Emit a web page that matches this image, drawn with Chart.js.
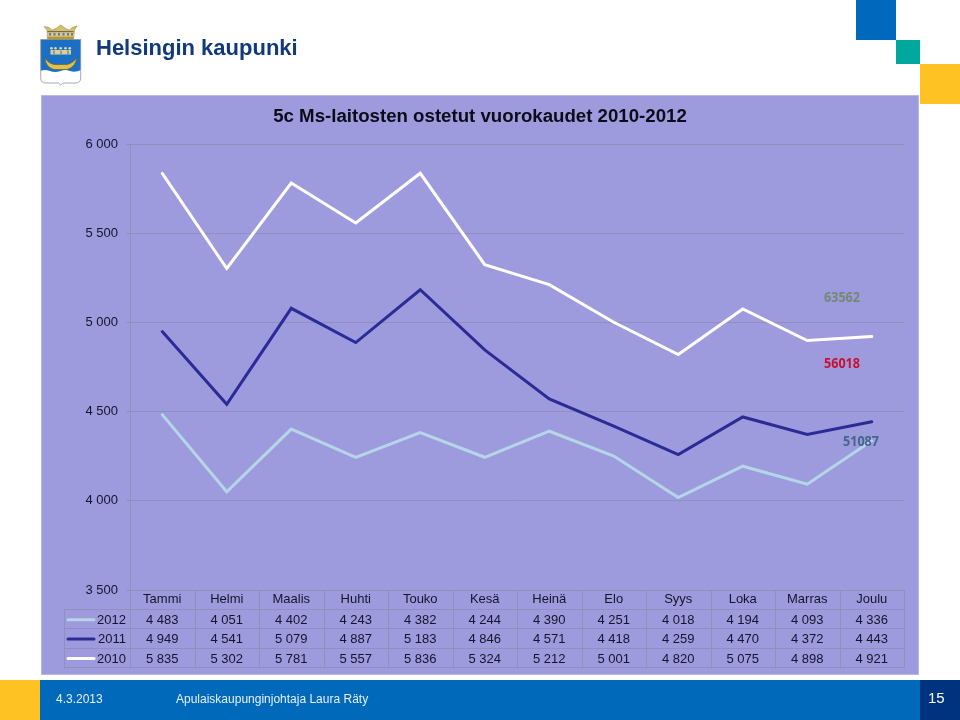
<!DOCTYPE html>
<html lang="fi">
<head>
<meta charset="utf-8">
<title>5c Ms-laitosten ostetut vuorokaudet 2010-2012</title>
<script src="https://cdn.jsdelivr.net/npm/chart.js@4"></script>
<style>
html,body{margin:0;padding:0;background:#fff}
canvas{display:block}
</style>
</head>
<body>
<canvas id="c" width="960" height="720"></canvas>
<script>
const months = ["Tammi","Helmi","Maalis","Huhti","Touko","Kesä","Heinä","Elo","Syys","Loka","Marras","Joulu"];
const years = ["2012","2011","2010"];
const values2012 = [4483,4051,4402,4243,4382,4244,4390,4251,4018,4194,4093,4336];
const values2011 = [4949,4541,5079,4887,5183,4846,4571,4418,4259,4470,4372,4443];
const values2010 = [5835,5302,5781,5557,5836,5324,5212,5001,4820,5075,4898,4921];
const yTicks = [3500,4000,4500,5000,5500,6000];
const totals = [
  {text:"63562", color:"#728a72", x:842, y:298},
  {text:"56018", color:"#c9112f", x:842, y:364},
  {text:"51087", color:"#44668f", x:861, y:442}
];
const FONT = '"Liberation Sans", Arial, sans-serif';
const TEXT = "#14142a";
const GRID = "#928fbc";
const fmt = v => { const s = String(v); return s.slice(0, s.length-3) + " " + s.slice(-3); };

function rect(c, col, x, y, w, h){ c.fillStyle = col; c.fillRect(x, y, w, h); }

function drawCrest(c){
  c.save();
  const shield = new Path2D();
  shield.moveTo(40.7,39.5); shield.lineTo(80.7,39.5); shield.lineTo(80.7,78);
  shield.quadraticCurveTo(80.7,83,75,83); shield.lineTo(63,83); shield.lineTo(60.7,85); shield.lineTo(58.4,83);
  shield.lineTo(46,83); shield.quadraticCurveTo(40.7,83,40.7,78); shield.closePath();
  c.fillStyle = "#fff"; c.fill(shield);
  c.save(); c.clip(shield);
  c.beginPath(); c.moveTo(40,39); c.lineTo(81,39); c.lineTo(81,70);
  c.quadraticCurveTo(75,73,70,71); c.quadraticCurveTo(65,69,60.7,71);
  c.quadraticCurveTo(55,73,50,71); c.quadraticCurveTo(45,69,40,71); c.closePath();
  c.fillStyle="#1b70c6"; c.fill();
  c.restore();
  c.strokeStyle="#8a93a3"; c.lineWidth=0.8; c.stroke(shield);
  c.beginPath(); c.moveTo(45,57); c.quadraticCurveTo(45,67,54,69.5); c.lineTo(67,69.5);
  c.quadraticCurveTo(76,67,76.7,57); c.quadraticCurveTo(74,63,67,64.5); c.lineTo(54,64.5);
  c.quadraticCurveTo(47,63,45,57); c.closePath();
  c.fillStyle="#e3c04a"; c.fill(); c.strokeStyle="#5f5a24"; c.lineWidth=0.6; c.stroke();
  c.fillStyle="#d8cf9a"; c.fillRect(50.5,50,20.5,4.5);
  c.fillStyle="#4c6c86"; [53.5,60.5,67.5].forEach(x=>c.fillRect(x,50.5,1,3.5));
  c.fillStyle="#dfd9ac";
  [51.5,55.5,60.7,65.5,69.8].forEach(x=>{c.beginPath();c.arc(x,48.2,1.3,0,7);c.fill();});
  c.beginPath(); c.moveTo(47,30); c.lineTo(44,26.5); c.lineTo(49,27.5); c.lineTo(52,30);
  c.lineTo(56,28.5); c.lineTo(60.7,25); c.lineTo(65.5,28.5); c.lineTo(69.5,30);
  c.lineTo(72,27.5); c.lineTo(77,26); c.lineTo(74.5,30); c.lineTo(73.5,39); c.lineTo(47.5,39); c.closePath();
  c.fillStyle="#d8c063"; c.fill();
  c.strokeStyle="#8a7a34"; c.lineWidth=0.5; c.stroke();
  c.fillStyle="#6f6c58"; c.fillRect(47.5,31,26,1.3);
  c.fillStyle="#c9c9c4"; c.fillRect(47.5,32.5,26,4);
  c.fillStyle="#8a7a34"; [49,53.5,58,62.5,67,71].forEach(x=>c.fillRect(x,33,2,2.6));
  c.fillStyle="#b6992f"; c.fillRect(47.5,36.7,26,2.3);
  c.restore();
}

const decor = {
  id:"decor",
  beforeDraw(ch){
    const c = ch.ctx;
    rect(c,"#ffffff",0,0,960,720);
    rect(c,"#0068bd",856,0,40,40);
    rect(c,"#00a79d",896,40,24,24);
    rect(c,"#ffc222",920,64,40,40);
    rect(c,"#b9b7e8",41,95,878,580);
    rect(c,"#9e9ade",42,96,876,578);
    rect(c,"#ffc222",0,680,40,40);
    rect(c,"#0069b9",40,680,880,40);
    rect(c,"#00337f",920,680,40,40);
    drawCrest(c);
    c.textBaseline="middle"; c.textAlign="left";
    c.fillStyle="#103a7c"; c.font='bold 22px '+FONT; c.fillText("Helsingin kaupunki",96,48.5);
    c.fillStyle="#e8f0f8"; c.font='12px '+FONT; c.fillText("4.3.2013",56,700);
    c.font='12px '+FONT; c.fillText("Apulaiskaupunginjohtaja Laura Räty",176,700);
    c.fillStyle="#ffffff"; c.font='15px '+FONT; c.fillText("15",928,698.5);
  },
  afterDraw(ch){
    const c = ch.ctx, x = ch.scales.x, a = ch.chartArea;
    const rowH = 19.4, top = a.bottom + 20;
    const rows = [values2012, values2011, values2010];
    const colors = ch.data.datasets.map(d=>d.borderColor);
    const colW = x.getPixelForValue(1) - x.getPixelForValue(0);
    c.save();
    c.strokeStyle = GRID; c.lineWidth = 1;
    c.beginPath();
    c.moveTo(a.left, a.bottom+.5); c.lineTo(a.right, a.bottom+.5);
    for(let r=0;r<=3;r++){ const y=Math.round(top+r*rowH)-.5; c.moveTo(64.5,y); c.lineTo(a.right,y); }
    c.moveTo(64.5,top); c.lineTo(64.5,top+3*rowH);
    for(let i=0;i<=12;i++){ const px=Math.round(a.left+i*colW)+.5; c.moveTo(px,a.bottom); c.lineTo(px,top+3*rowH); }
    c.stroke();
    c.font='13px '+FONT; c.textBaseline="middle"; c.fillStyle=TEXT;
    rows.forEach((vals,r)=>{
      const y = top + (r+.5)*rowH;
      c.strokeStyle = colors[r]; c.lineWidth=3; c.lineCap="round";
      c.beginPath(); c.moveTo(68,y); c.lineTo(94,y); c.stroke();
      c.textAlign="right"; c.fillStyle=TEXT; c.fillText(years[r],126,y+.5);
      c.textAlign="center";
      vals.forEach((v,i)=>c.fillText(fmt(v),x.getPixelForValue(i),y+.5));
    });
    c.font='bold 15px "Noto Sans", sans-serif'; c.textAlign="center";
    totals.forEach(t=>{
      c.save(); c.translate(t.x,t.y); c.scale(0.84,1);
      c.fillStyle=t.color; c.fillText(t.text,0,0);
      c.restore();
    });
    c.restore();
  }
};

new Chart(document.getElementById("c"),{
  type:"line",
  plugins:[decor],
  data:{
    labels:months,
    datasets:[
      {label:years[0],data:values2012,borderColor:"#b4d6e6",borderWidth:3,pointRadius:0,tension:0,borderCapStyle:"round",borderJoinStyle:"miter"},
      {label:years[1],data:values2011,borderColor:"#2b2b96",borderWidth:3,pointRadius:0,tension:0,borderCapStyle:"round",borderJoinStyle:"miter"},
      {label:years[2],data:values2010,borderColor:"#ffffff",borderWidth:3,pointRadius:0,tension:0,borderCapStyle:"round",borderJoinStyle:"miter"}
    ]
  },
  options:{
    responsive:false,
    animation:false,
    devicePixelRatio:1,
    layout:{padding:{left:56,right:56,top:105.5,bottom:110}},
    plugins:{
      legend:{display:false},
      tooltip:{enabled:false},
      title:{display:true,text:"5c Ms-laitosten ostetut vuorokaudet 2010-2012",color:"#0c0c18",
        font:{family:FONT,size:18.67,weight:"bold"},padding:{top:0,bottom:16.1}}
    },
    scales:{
      x:{
        offset:true,
        border:{display:false},
        grid:{display:false,drawTicks:false},
        ticks:{color:TEXT,font:{family:FONT,size:13},padding:2,maxRotation:0,autoSkip:false},
        afterFit(s){ s.height = 20; }
      },
      y:{
        min:3500,max:6000,
        afterBuildTicks(s){ s.ticks = yTicks.map(v=>({value:v})); },
        afterFit(s){ s.width = 74; },
        border:{display:true,color:GRID},
        grid:{color:GRID,lineWidth:1,tickLength:4},
        ticks:{color:TEXT,font:{family:FONT,size:13},padding:8,callback:v=>fmt(v)}
      }
    }
  }
});
</script>
</body>
</html>
